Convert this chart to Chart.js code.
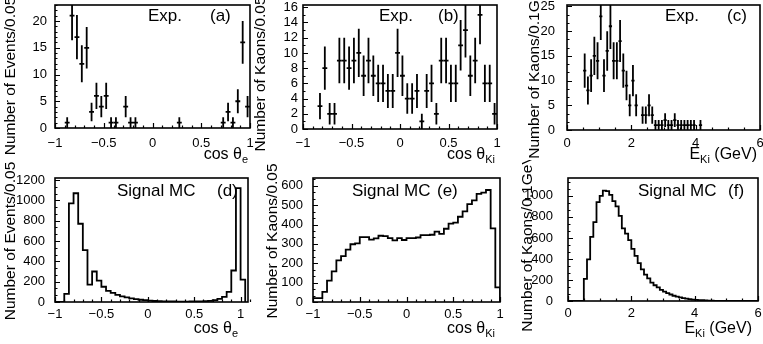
<!DOCTYPE html>
<html>
<head>
<meta charset="utf-8">
<script src="https://cdn.jsdelivr.net/npm/chart.js@4.4.0/dist/chart.umd.min.js"></script>
<style>
  html, body { margin: 0; padding: 0; background: #fff; }
  #wrap { position: relative; width: 763px; height: 344px; overflow: hidden; background: #fff; }
  #wrap canvas { position: absolute; }
</style>
</head>
<body>
<div id="wrap"></div>
<script>
// binning
var cosLo = -1, cosStep = 0.05;
var ekLo = 0, ekStep = 0.1;

// (a) Exp. cos theta_e, 40 bins of 0.05
var expCosE = [0, 0, 1, 21, 17, 12, 15, 3, 6, 4,
               6, 1, 1, 0, 4, 1, 1, 0, 0, 0,
               0, 0, 0, 0, 0, 1, 0, 0, 0, 0,
               0, 0, 0, 0, 1, 3, 1, 5, 16, 4];
// (b) Exp. cos theta_Ki, 40 bins of 0.05
var expCosK = [0, 0, 0, 3, 8, 2, 2, 9, 9, 8,
               9, 10, 7, 9, 7, 6, 6, 5, 5, 10,
               7, 4, 4, 5, 1, 5, 6, 2, 9, 9,
               6, 6, 11, 13, 7, 9, 15, 6, 6, 2];
// (c) Exp. E_Ki, 60 bins of 0.1 GeV
var expEK = [0, 0, 0, 0, 0, 12, 8, 11, 15, 14,
             23, 11, 16, 21, 14, 14, 18, 12, 9, 5,
             10, 5, 0, 3, 3, 5, 3, 1, 1, 1,
             2, 1, 1, 2, 1, 1, 1, 1, 1, 1,
             0, 1, 0, 0, 0, 0, 0, 0, 0, 0,
             0, 0, 0, 0, 0, 0, 0, 0, 0, 0];
// (d) Signal MC cos theta_e, 41 bins of 0.05 (-1 .. 1.05)
var mcCosE = [0, 0, 80, 970, 1070, 770, 510, 170, 300, 210,
              150, 110, 90, 70, 55, 45, 35, 28, 22, 18,
              14, 10, 8, 6, 5, 5, 4, 4, 4, 5,
              5, 6, 8, 12, 18, 30, 50, 100, 310, 1120,
              220];
// (e) Signal MC cos theta_Ki, 40 bins of 0.05
var mcCosK = [20, 20, 52, 110, 158, 215, 237, 270, 298, 303,
              335, 335, 322, 328, 342, 340, 330, 318, 330, 320,
              330, 330, 333, 345, 345, 347, 363, 352, 378, 405,
              410, 440, 468, 505, 525, 558, 565, 578, 380, 75];
// (f) Signal MC E_Ki, 60 bins of 0.1 GeV
var mcEK = [0, 0, 0, 0, 0, 210, 395, 610, 750, 940,
            1000, 1050, 1045, 1010, 950, 900, 810, 690, 640, 580,
            495, 430, 360, 300, 250, 215, 175, 150, 130, 105,
            90, 75, 62, 50, 42, 35, 28, 22, 18, 14,
            11, 9, 7, 5, 4, 3, 2, 2, 1, 1,
            0, 0, 0, 0, 0, 0, 0, 0, 0, 0];

// tick labels
var cosTicks = [-1, -0.5, 0, 0.5, 1];
var ekTicks = [0, 2, 4, 6];
var yTicksA = [0, 5, 10, 15, 20];
var yTicksB = [0, 2, 4, 6, 8, 10, 12, 14, 16];
var yTicksC = [0, 5, 10, 15, 20, 25];
var yTicksD = [0, 200, 400, 600, 800, 1000, 1200];
var yTicksE = [0, 100, 200, 300, 400, 500, 600];
var yTicksF = [0, 200, 400, 600, 800, 1000];

// texts
var yTitleEvents = 'Number of Events/0.05';
var yTitleKaons = 'Number of Kaons/0.05';
var yTitleKaonsE = 'Number of Kaons/0.1GeV';
var xTitleCosE = [['cos \u03b8', 0], ['e', 1]];
var xTitleCosK = [['cos \u03b8', 0], ['Ki', 1]];
var xTitleEK = [['E', 0], ['Ki', 1], [' (GeV)', 0]];

var FONT = '"Liberation Sans", Arial, Helvetica, sans-serif';

function binCenters(vals, lo, step) {
  var pts = [];
  vals.forEach(function (v, i) {
    if (v > 0) { pts.push({ x: lo + (i + 0.5) * step, y: v }); }
  });
  return pts;
}

function histPoints(vals, lo, step) {
  var n = vals.length;
  var pts = [{ x: lo, y: 0 }];
  vals.forEach(function (v, i) { pts.push({ x: lo + i * step, y: v }); });
  pts.push({ x: lo + n * step, y: vals[n - 1] });
  pts.push({ x: lo + n * step, y: 0 });
  return pts;
}

function fmt(v) {
  return v < 0 ? '\u2212' + Math.abs(v) : String(v);
}

// page layout of the six pads
var panels = [
  { box: [0, 0, 262, 172], area: [55, 5, 250, 128], x: [-1, 1], y: [0, 23],
    xt: cosTicks, yt: yTicksA, xMinor: 0.1, yMinor: 1, yPad: 8, xPad: 8,
    exp: expCosE, lo: cosLo, step: cosStep,
    yTitle: yTitleEvents, yTitleX: 15, yTitleY: 76,
    xTitle: xTitleCosE, xTitleR: 248, xTitleY: 159,
    tags: [['Exp.', 148], ['(a)', 210]], tagY: 21 },
  { box: [244, 0, 262, 172], area: [303, 5, 497, 129], x: [-1, 1], y: [0, 16.3],
    xt: cosTicks, yt: yTicksB, xMinor: 0.1, yMinor: 1, yPad: 5, xPad: 7,
    exp: expCosK, lo: cosLo, step: cosStep,
    yTitle: yTitleKaons, yTitleX: 265, yTitleY: 74,
    xTitle: xTitleCosK, xTitleR: 495, xTitleY: 159,
    tags: [['Exp.', 379], ['(b)', 438]], tagY: 21 },
  { box: [500, 0, 263, 172], area: [567, 5, 760, 130], x: [0, 6], y: [0, 25.3],
    xt: ekTicks, yt: yTicksC, xMinor: 0.5, yMinor: 5 / 3, yPad: 12, xPad: 6,
    exp: expEK, lo: ekLo, step: ekStep,
    yTitle: yTitleKaonsE, yTitleX: 539, yTitleY: 70,
    xTitle: xTitleEK, xTitleR: 757, xTitleY: 159,
    tags: [['Exp.', 665], ['(c)', 727]], tagY: 21 },
  { box: [0, 160, 262, 184], area: [55, 178, 248, 302], x: [-1, 1.08], y: [0, 1220],
    xt: cosTicks, yt: yTicksD, xMinor: 0.1, yMinor: 200 / 3, yPad: 10, xPad: 5,
    hist: mcCosE, lo: cosLo, step: cosStep,
    yTitle: yTitleEvents, yTitleX: 15, yTitleY: 241,
    xTitle: xTitleCosE, xTitleR: 238, xTitleY: 333,
    tags: [['Signal MC', 117], ['(d)', 217]], tagY: 196 },
  { box: [244, 160, 262, 184], area: [313, 178, 500, 302], x: [-1, 1], y: [0, 640],
    xt: cosTicks, yt: yTicksE, xMinor: 0.1, yMinor: 100 / 3, yPad: 10, xPad: 5,
    hist: mcCosK, lo: cosLo, step: cosStep,
    yTitle: yTitleKaons, yTitleX: 277, yTitleY: 241,
    xTitle: xTitleCosK, xTitleR: 495, xTitleY: 333,
    tags: [['Signal MC', 352], ['(e)', 437]], tagY: 196 },
  { box: [500, 160, 263, 184], area: [568, 178, 758, 301], x: [0, 6], y: [0, 1170],
    xt: ekTicks, yt: yTicksF, xMinor: 0.5, yMinor: 200 / 3, yPad: 15, xPad: 5,
    hist: mcEK, lo: ekLo, step: ekStep,
    yTitle: yTitleKaonsE, yTitleX: 532, yTitleY: 243,
    xTitle: xTitleEK, xTitleR: 752, xTitleY: 333,
    tags: [['Signal MC', 638], ['(f)', 728]], tagY: 196 }
];

function decor(p) {
  var ox = p.box[0], oy = p.box[1];
  return {
    id: 'rootDecor',
    afterDatasetsDraw: function (chart) {
      if (!p.exp) { return; }
      var ctx = chart.ctx, xs = chart.scales.x, ys = chart.scales.y, a = chart.chartArea;
      ctx.save();
      ctx.beginPath();
      ctx.rect(a.left, a.top, a.right - a.left, a.bottom - a.top);
      ctx.clip();
      ctx.strokeStyle = '#000';
      ctx.lineWidth = 1.8;
      chart.data.datasets[0].data.forEach(function (d) {
        var e = Math.sqrt(d.y);
        var px = xs.getPixelForValue(d.x), py = ys.getPixelForValue(d.y);
        ctx.beginPath();
        ctx.moveTo(px, ys.getPixelForValue(d.y - e));
        ctx.lineTo(px, ys.getPixelForValue(d.y + e));
        ctx.moveTo(xs.getPixelForValue(d.x - p.step / 2), py);
        ctx.lineTo(xs.getPixelForValue(d.x + p.step / 2), py);
        ctx.stroke();
      });
      ctx.restore();
    },
    afterDraw: function (chart) {
      var ctx = chart.ctx, xs = chart.scales.x, ys = chart.scales.y, a = chart.chartArea;
      var i, n, v, px, py;
      ctx.save();
      ctx.strokeStyle = '#000';
      ctx.fillStyle = '#000';
      // ticks, ROOT style (inside the frame)
      ctx.lineWidth = 1.2;
      ctx.beginPath();
      n = Math.round((p.x[1] - p.x[0]) / p.xMinor);
      for (i = 0; i <= n; i++) {
        v = p.x[0] + i * p.xMinor;
        px = Math.round(xs.getPixelForValue(v)) + 0.5;
        var major = p.xt.some(function (t) { return Math.abs(t - v) < 1e-6; });
        ctx.moveTo(px, a.bottom);
        ctx.lineTo(px, a.bottom - (major ? 5 : 2.5));
      }
      n = Math.floor((p.y[1] - p.y[0]) / p.yMinor + 1e-6);
      for (i = 0; i <= n; i++) {
        v = p.y[0] + i * p.yMinor;
        py = Math.round(ys.getPixelForValue(v)) + 0.5;
        var majorY = p.yt.some(function (t) { return Math.abs(t - v) < 1e-6; });
        ctx.moveTo(a.left, py);
        ctx.lineTo(a.left + (majorY ? 5 : 2.5), py);
      }
      ctx.stroke();
      // frame
      ctx.lineWidth = 1.6;
      ctx.strokeRect(a.left, a.top, a.right - a.left, a.bottom - a.top);

      // pad labels
      ctx.font = '17px ' + FONT;
      ctx.textBaseline = 'alphabetic';
      ctx.textAlign = 'left';
      p.tags.forEach(function (t) { ctx.fillText(t[0], t[1] - ox, p.tagY - oy); });

      // x title with subscripts, right aligned
      var big = '16px ' + FONT, small = '11px ' + FONT;
      var w = 0;
      p.xTitle.forEach(function (part) {
        ctx.font = part[1] ? small : big;
        w += ctx.measureText(part[0]).width;
      });
      var cx = p.xTitleR - ox - w;
      p.xTitle.forEach(function (part) {
        ctx.font = part[1] ? small : big;
        ctx.fillText(part[0], cx, p.xTitleY - oy + (part[1] ? 4 : 0));
        cx += ctx.measureText(part[0]).width;
      });

      // y title, rotated
      ctx.font = '15.5px ' + FONT;
      ctx.textAlign = 'center';
      ctx.translate(p.yTitleX - ox, p.yTitleY - oy);
      ctx.rotate(-Math.PI / 2);
      ctx.fillText(p.yTitle, 0, 0);
      ctx.restore();
    }
  };
}

var wrap = document.getElementById('wrap');

panels.forEach(function (p) {
  var canvas = document.createElement('canvas');
  canvas.width = p.box[2];
  canvas.height = p.box[3];
  canvas.style.left = p.box[0] + 'px';
  canvas.style.top = p.box[1] + 'px';
  wrap.appendChild(canvas);

  var yW = p.area[0] - p.box[0];
  var xH = p.box[1] + p.box[3] - p.area[3];
  var padTop = p.area[1] - p.box[1];
  var padRight = p.box[0] + p.box[2] - p.area[2];

  var dataset = p.exp ? {
    data: binCenters(p.exp, p.lo, p.step),
    pointRadius: 0,
    showLine: false
  } : {
    data: histPoints(p.hist, p.lo, p.step),
    stepped: true,
    borderColor: '#000',
    borderWidth: 1.8,
    pointRadius: 0,
    fill: false
  };

  new Chart(canvas, {
    type: p.exp ? 'scatter' : 'line',
    data: { datasets: [dataset] },
    options: {
      responsive: false,
      animation: false,
      devicePixelRatio: 1,
      events: [],
      layout: { padding: { top: padTop, right: padRight, left: 0, bottom: 0 } },
      plugins: { legend: { display: false }, tooltip: { enabled: false } },
      scales: {
        x: {
          type: 'linear',
          min: p.x[0],
          max: p.x[1],
          grid: { display: false, drawTicks: false },
          border: { display: false },
          afterBuildTicks: function (s) { s.ticks = p.xt.map(function (v) { return { value: v }; }); },
          afterFit: function (s) { s.height = xH; s.paddingLeft = 0; s.paddingRight = 0; },
          ticks: {
            autoSkip: false, maxRotation: 0, padding: p.xPad, color: '#000',
            font: { family: FONT, size: 13 },
            callback: function (v) { return fmt(v); }
          }
        },
        y: {
          type: 'linear',
          min: p.y[0],
          max: p.y[1],
          grid: { display: false, drawTicks: false },
          border: { display: false },
          afterBuildTicks: function (s) { s.ticks = p.yt.map(function (v) { return { value: v }; }); },
          afterFit: function (s) { s.width = yW; s.paddingTop = 0; s.paddingBottom = 0; },
          ticks: {
            autoSkip: false, padding: p.yPad, color: '#000',
            font: { family: FONT, size: 13 },
            callback: function (v) { return fmt(v); }
          }
        }
      }
    },
    plugins: [decor(p)]
  });
});
</script>
</body>
</html>
